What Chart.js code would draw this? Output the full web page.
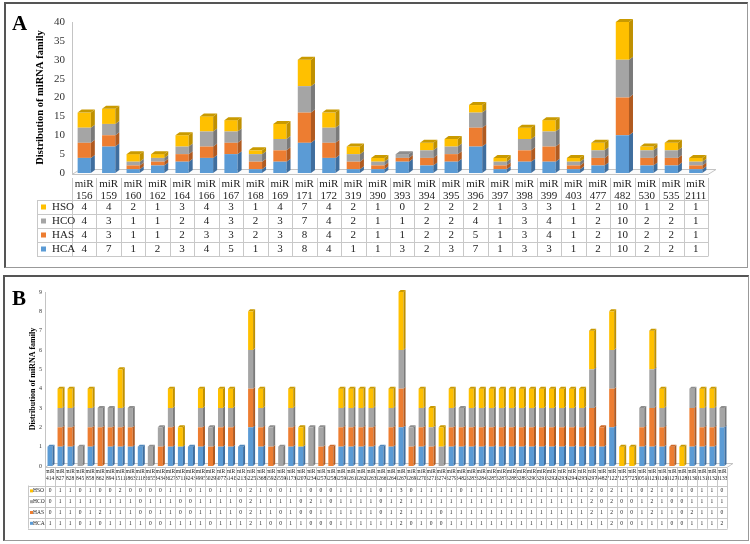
<!DOCTYPE html>
<html>
<head>
<meta charset="utf-8">
<script src="https://cdn.jsdelivr.net/npm/chart.js@4.4.0/dist/chart.umd.min.js"></script>
<style>
    body { margin: 0; background: #fff; width: 750px; height: 544px; position: relative; overflow: hidden; }
    .panel { position: absolute; left: 0; width: 750px; height: 272px; }
    #panelA { top: 0; }
    #panelB { top: 272px; }
    .frame { position: absolute; border-top: 2px solid #555; border-left: 2px solid #555; border-right: 1px solid #999; border-bottom: 1px solid #999; pointer-events: none; }
    .tag { position: absolute; font: bold 21px 'Liberation Serif', serif; color: #000; }
</style>
</head>
<body>
<div class="panel" id="panelA"><canvas id="chartA" width="750" height="272"></canvas></div>
<div class="panel" id="panelB"><canvas id="chartB" width="750" height="272"></canvas></div>
<div class="frame" style="left:4px; top:2px; width:741px; height:263px;"></div>
<div class="frame" style="left:3px; top:275px; width:743px; height:263px;"></div>
<div class="tag" style="left:12px; top:11px;">A</div>
<div class="tag" style="left:12px; top:286px;">B</div>

<script type="text/javascript">
// panel A
const catsA = ['156','159','160','162','164','166','167','168','169','171','172','319','390','393','394','395','396','397','398','399','403','477','482','530','535','2111'];
const hcaA = [4,7,1,2,3,4,5,1,3,8,4,1,1,3,2,3,7,1,3,3,1,2,10,2,2,1];
const hasA = [4,3,1,1,2,3,3,2,3,8,4,2,1,1,2,2,5,1,3,4,1,2,10,2,2,1];
const hcoA = [4,3,1,1,2,4,3,2,3,7,4,2,1,1,2,2,4,1,3,4,1,2,10,2,2,1];
const hsoA = [4,4,2,1,3,4,3,1,4,7,4,2,1,0,2,2,2,1,3,3,1,2,10,1,2,1];

// panel B
const catsB = ['414','827','828','845','858','862','894','1511','1863','2118','2655','3434','3627','3711','4243','4995','5029','5077','5141','5213',
    '5225','5368','5592','5559','6173','6207','6234','6257','6258','6259','6261','6262','6263','6266','6264','6267','6269','6270','6271','6274',
    '6279','6482','6283','6284','6285','6287','6288','6289','6290','6291','6292','6293','6294','6295','6297','6482','7122','7125','7725','8051',
    '8123','8126','8127','8128','8130','8131','8132','8133'];
const hcaB = [1,1,1,0,1,0,1,1,1,1, 0,0,1,1,1,1,0,1,1,1, 2,1,0,0,1,1,0,0,0,1, 1,1,1,1,1,2,0,1,0,0,
    1,1,1,1,1,1,1,1,1,1, 1,1,1,1,1,1,2,0,0,1, 1,1,0,0,1,1,1,2];
const hasB = [0,1,1,0,1,2,1,1,1,0, 0,1,1,0,0,1,1,1,1,0, 2,1,1,0,1,0,0,1,1,1, 1,1,1,0,1,2,1,1,1,0,
    1,1,1,1,1,1,1,1,1,1, 1,1,1,1,2,1,2,0,0,1, 2,1,1,0,2,1,1,0];
const hcoB = [0,1,1,1,1,1,1,1,1,0, 1,1,1,0,0,1,1,1,1,0, 2,1,1,1,1,0,2,1,0,1, 1,1,1,0,1,2,1,1,1,1,
    1,1,1,1,1,1,1,1,1,1, 1,1,1,1,2,0,2,0,0,1, 2,1,0,0,1,1,1,1];
const hsoB = [0,1,1,0,1,0,0,2,0,0, 0,0,1,1,0,1,0,1,1,0, 2,1,0,0,1,1,0,0,0,1, 1,1,1,0,1,3,0,1,1,1,
    1,0,1,1,1,1,1,1,1,1, 1,1,1,1,2,0,2,1,1,0, 2,1,0,1,0,1,1,0];

const seriesNames = ['HCA', 'HAS', 'HCO', 'HSO'];
const fronts = ['#5B9BD5', '#ED7D31', '#A5A5A5', '#FFC000'];
const sides  = ['#3F6E9E', '#B05A20', '#7A7A7A', '#BF9000'];
const tops   = ['#4E87BD', '#D06A28', '#8E8E8E', '#C99A00'];

const serif = "'Liberation Serif', 'Times New Roman', serif";

// side + top faces for a fake 3D look, and the floor under the bars
const threeD = {
    id: 'threeD',
    beforeDatasetsDraw(chart, args, o) {
        const ctx = chart.ctx, a = chart.chartArea;
        ctx.save();
        ctx.strokeStyle = '#c4c4c4';
        ctx.fillStyle = '#fbfbfb';
        ctx.lineWidth = 1;
        ctx.beginPath();
        ctx.moveTo(a.left, a.bottom + 1.5);
        ctx.lineTo(a.right, a.bottom + 1.5);
        ctx.lineTo(a.right + o.fx, a.bottom + 1.5 - o.fy);
        ctx.lineTo(a.left + o.fx, a.bottom + 1.5 - o.fy);
        ctx.closePath();
        ctx.fill();
        ctx.stroke();
        ctx.restore();
    },
    afterDatasetsDraw(chart, args, o) {
        const ctx = chart.ctx;
        const topIdx = [];
        chart.data.datasets.forEach((ds, d) => ds.data.forEach((v, i) => { if (v > 0) topIdx[i] = d; }));
        ctx.save();
        chart.data.datasets.forEach((ds, d) => {
            const meta = chart.getDatasetMeta(d);
            meta.data.forEach((bar, i) => {
                if (!(ds.data[i] > 0)) return;
                const p = bar.getProps(['x', 'y', 'base', 'width'], true);
                const l = p.x - p.width / 2, r = p.x + p.width / 2;
                ctx.fillStyle = ds.sideColor;
                ctx.beginPath();
                ctx.moveTo(r, p.y);
                ctx.lineTo(r + o.dx, p.y - o.dy);
                ctx.lineTo(r + o.dx, p.base - o.dy);
                ctx.lineTo(r, p.base);
                ctx.closePath();
                ctx.fill();
                if (topIdx[i] === d) {
                    ctx.fillStyle = ds.topColor;
                    ctx.beginPath();
                    ctx.moveTo(l, p.y);
                    ctx.lineTo(l + o.dx, p.y - o.dy);
                    ctx.lineTo(r + o.dx, p.y - o.dy);
                    ctx.lineTo(r, p.y);
                    ctx.closePath();
                    ctx.fill();
                }
            });
        });
        ctx.restore();
    }
};

// data table under the x axis
const dataTable = {
    id: 'dataTable',
    afterDraw(chart, args, o) {
        const ctx = chart.ctx, xs = chart.scales.x;
        const n = chart.data.labels.length;
        const step = (xs.right - xs.left) / n;
        const rows = chart.data.datasets.slice().reverse();
        const bottom = o.top + o.rowH * rows.length;
        ctx.save();
        ctx.strokeStyle = o.lineColor;
        ctx.lineWidth = 1;
        ctx.beginPath();
        for (let i = 0; i <= n; i++) {
            const x = Math.round(xs.left + i * step) + 0.5;
            ctx.moveTo(x, o.labelTop);
            ctx.lineTo(x, bottom);
        }
        ctx.moveTo(o.legendLeft + 0.5, o.top);
        ctx.lineTo(o.legendLeft + 0.5, bottom);
        for (let r = 0; r <= rows.length; r++) {
            const y = Math.round(o.top + r * o.rowH) + 0.5;
            ctx.moveTo(o.legendLeft, y);
            ctx.lineTo(Math.round(xs.right) + 0.5, y);
        }
        ctx.stroke();
        ctx.font = o.font;
        ctx.textBaseline = 'middle';
        rows.forEach((ds, r) => {
            const cy = o.top + r * o.rowH + o.rowH / 2;
            ctx.fillStyle = o.color;
            ctx.textAlign = 'center';
            ds.data.forEach((v, i) => ctx.fillText(String(v), xs.getPixelForValue(i), cy));
            ctx.fillStyle = ds.backgroundColor;
            ctx.fillRect(o.legendLeft + o.swX, cy - o.sw / 2, o.sw, o.sw);
            ctx.fillStyle = o.color;
            ctx.textAlign = 'left';
            ctx.fillText(ds.label, o.legendLeft + o.labX, cy);
        });
        ctx.restore();
    }
};

function makeDatasets(values) {
    return values.map((data, k) => ({
        label: seriesNames[k],
        data: data,
        backgroundColor: fronts[k],
        sideColor: sides[k],
        topColor: tops[k],
        borderWidth: 0,
        categoryPercentage: 1
    }));
}

function build(canvasId, cats, values, g) {
    const datasets = makeDatasets(values);
    datasets.forEach(ds => ds.barPercentage = g.barPct);
    return new Chart(document.getElementById(canvasId), {
        type: 'bar',
        data: { labels: cats.map(c => ['miR', c]), datasets: datasets },
        plugins: [threeD, dataTable],
        options: {
            responsive: false,
            animation: false,
            events: [],
            layout: { padding: g.padding },
            plugins: {
                legend: { display: false },
                tooltip: { enabled: false },
                threeD: g.threeD,
                dataTable: g.table
            },
            scales: {
                x: {
                    stacked: true,
                    afterFit: s => { s.height = g.xHeight; },
                    grid: { display: false, drawTicks: false },
                    border: { display: false },
                    ticks: {
                        autoSkip: false, maxRotation: 0, minRotation: 0,
                        padding: g.xPad, color: '#222',
                        font: { family: serif, size: g.xFont, lineHeight: 1.1 }
                    }
                },
                y: {
                    stacked: true,
                    min: 0, max: g.yMax,
                    afterFit: s => { s.width = g.yWidth; },
                    grid: { display: false, drawTicks: false },
                    border: { display: true, color: '#c4c4c4' },
                    ticks: {
                        stepSize: g.yStep, padding: g.yPad, color: '#333',
                        font: { family: serif, size: g.yFont }
                    },
                    title: {
                        display: true,
                        text: 'Distribution of miRNA family',
                        color: '#000',
                        padding: { top: g.titlePad, bottom: 0 },
                        font: { family: serif, size: g.titleFont, weight: 'bold' }
                    }
                }
            }
        }
    });
}

build('chartA', catsA, [hcaA, hasA, hcoA, hsoA], {
    barPct: 0.54,
    padding: { left: 32, right: 42, top: 22, bottom: 71 },
    xHeight: 28, xPad: 5, xFont: 11,
    yMax: 40, yStep: 5, yWidth: 40, yPad: 7, yFont: 11,
    titlePad: 2, titleFont: 10.5,
    threeD: { dx: 4, dy: 3, fx: 8, fy: 5 },
    table: { labelTop: 178, top: 200, rowH: 14, legendLeft: 37, swX: 4, sw: 5, labX: 15,
             font: '11px ' + serif, color: '#222', lineColor: '#c8c8c8' }
});

build('chartB', catsB, [hcaB, hasB, hcoB, hsoB], {
    barPct: 0.5,
    padding: { left: 25, right: 23, top: 20, bottom: 60 },
    xHeight: 18, xPad: 3, xFont: 5.5,
    yMax: 9, yStep: 1, yWidth: 20, yPad: 3, yFont: 6,
    titlePad: 3, titleFont: 8,
    threeD: { dx: 2, dy: 2, fx: 6, fy: 4 },
    table: { labelTop: 196, top: 213.5, rowH: 10.8, legendLeft: 28, swX: 2, sw: 3, labX: 5,
             font: '5.5px ' + serif, color: '#222', lineColor: '#c8c8c8' }
});
</script>
</body>
</html>
